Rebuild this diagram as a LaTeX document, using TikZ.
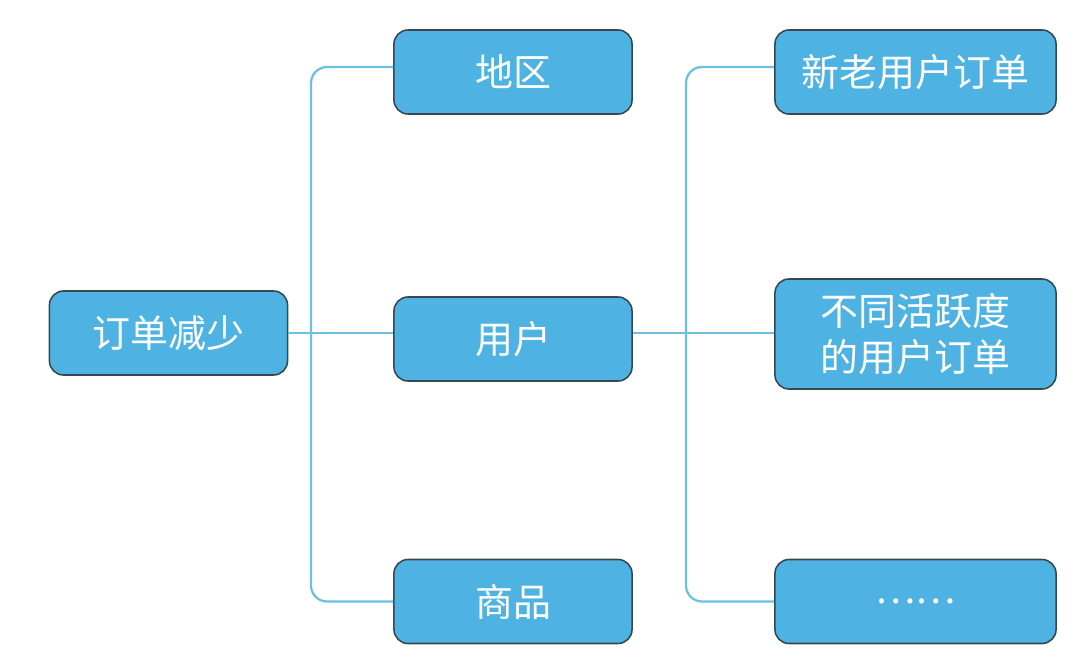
\documentclass[tikz,border=0pt]{standalone}
\usepackage{fontspec}
\newfontfamily\cjk{Noto Sans CJK SC}
\usetikzlibrary{positioning}
\definecolor{boxblue}{HTML}{4EB3E3}
\definecolor{boxedge}{HTML}{36474F}
\definecolor{linkblue}{HTML}{6CC0E4}

\begin{document}
\begin{tikzpicture}[
    x=0.025cm, y=-0.025cm,
    box/.style={
        draw=boxedge,
        fill=boxblue,
        line width=1.1pt,
        rounded corners=0.35cm,
        minimum width=5.95cm,
        minimum height=2.1cm,
        align=center,
        text=white,
        inner sep=0pt,
        font=\cjk\fontsize{27}{33}\selectfont
    },
    widebox/.style={
        box,
        minimum width=7.025cm
    },
    link/.style={
        draw=linkblue,
        line width=1.6pt,
        rounded corners=0.4cm
    }
]
\useasboundingbox (0,0) rectangle (1090,663);

% Root
\node (root) [box] at (168.5,333) {订单减少};

% Middle column
\node (area) [box] at (513,72) {地区};
\node (user) [box] at (513,339) {用户};
\node (goods) [box] at (513,601.5) {商品};

% Right column
\node (newold) [widebox] at (915.5,72) {新老用户订单};
\node (active) [widebox, minimum height=2.75cm] at (915.5,334) {不同活跃度\\的用户订单};
\node (more) [widebox] at (915.5,601.5) {……};

% Left trunk
\coordinate (trunkL) at (311,333);
\draw [link] (root.east) -- (root.east -| user.west);
\draw [link] ([yshift=0.125cm]area.west) -| (trunkL) |- (goods.west);

% Right trunk
\coordinate (trunkR) at (686,333);
\draw [link] (root.east -| user.east) -- (root.east -| active.west);
\draw [link] ([yshift=0.125cm]newold.west) -| (trunkR) |- (more.west);

\end{tikzpicture}
\end{document}
